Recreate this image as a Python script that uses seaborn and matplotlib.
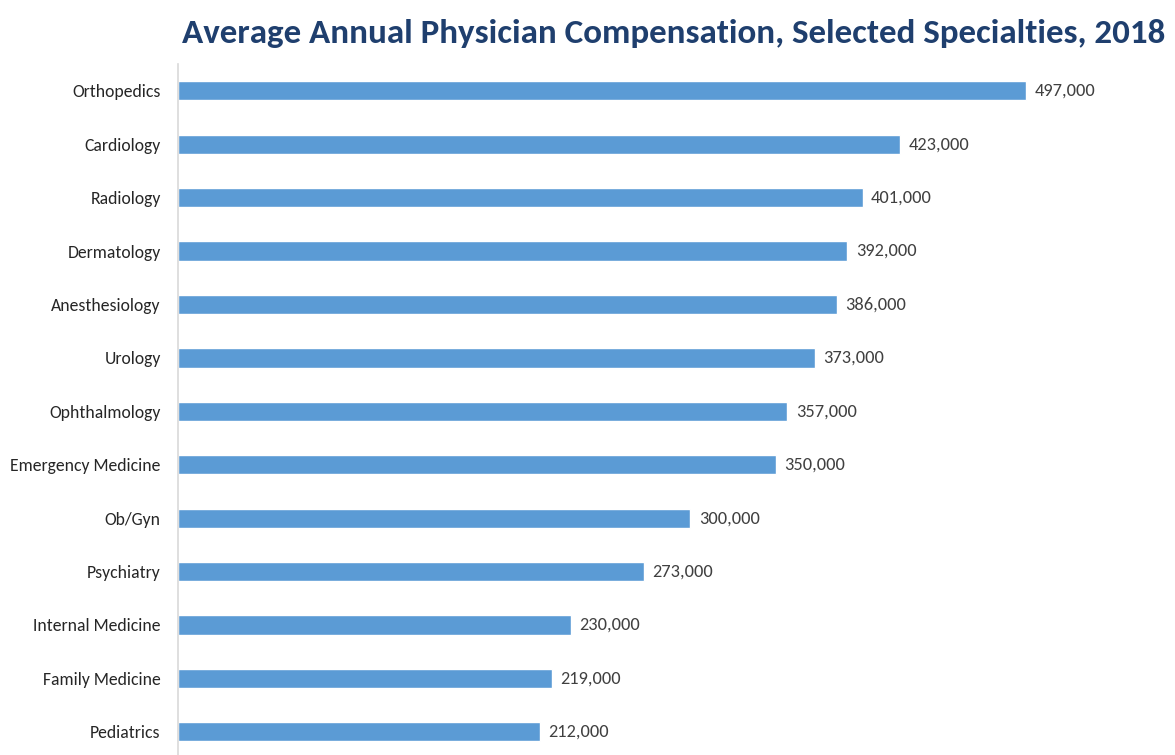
import seaborn as sns
import matplotlib.pyplot as plt
import pandas as pd

specialties = ['Orthopedics', 'Cardiology', 'Radiology', 'Dermatology', 'Anesthesiology',
               'Urology', 'Ophthalmology', 'Emergency Medicine', 'Ob/Gyn', 'Psychiatry',
               'Internal Medicine', 'Family Medicine', 'Pediatrics']
compensation = [497000, 423000, 401000, 392000, 386000, 373000, 357000,
                 350000, 300000, 273000, 230000, 219000, 212000]

df = pd.DataFrame({'Specialty': specialties, 'Compensation': compensation})

sns.set_style('white')
plt.rcParams['font.family'] = ['Carlito', 'DejaVu Sans']

fig = plt.figure(figsize=(11.75, 7.55), dpi=100)
ax = fig.add_axes([0.1515, 0.0, 0.8485, 0.915])

sns.barplot(data=df, x='Compensation', y='Specialty', color='#5B9BD5',
            width=0.36, saturation=1, ax=ax)

ax.set_xlim(0, 584000)
ax.set_ylim(12.435, -0.5)
ax.set_xlabel('')
ax.set_ylabel('')
ax.set_xticks([])
ax.tick_params(axis='y', length=0, pad=12.5, labelsize=12.7, labelcolor='#262626')

for side in ['top', 'right', 'bottom']:
    ax.spines[side].set_visible(False)
ax.spines['left'].set_color('#D9D9D9')
ax.spines['left'].set_linewidth(1.2)

# value labels at the end of each bar
for i, v in enumerate(compensation):
    ax.text(v + 5000, i, f'{v:,}', va='center', ha='left', fontsize=13.2, color='#404040')

fig.text(0.5736, 0.956, 'Average Annual Physician Compensation, Selected Specialties, 2018',
         ha='center', va='center', fontsize=25.2, fontweight='bold', color='#1F3F6E')

fig.savefig('out.png', dpi=100)
